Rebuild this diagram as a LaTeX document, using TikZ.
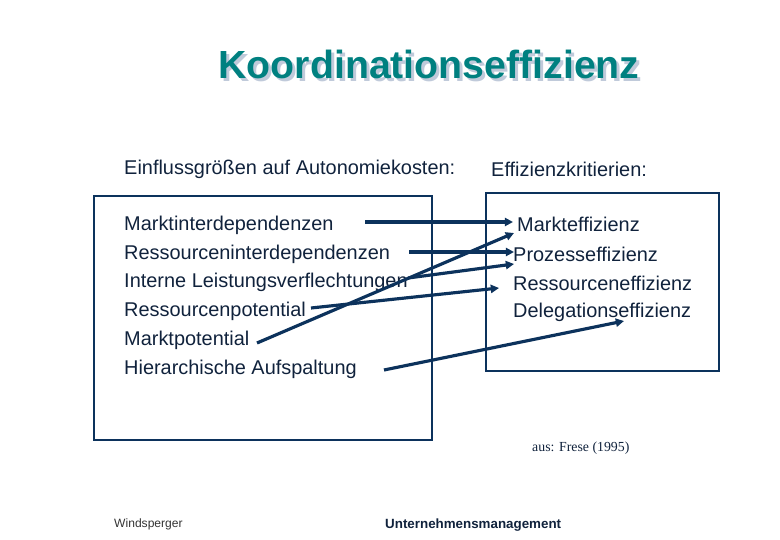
\documentclass[tikz,border=0pt]{standalone}
\usepackage{fontspec}
\setmainfont{Liberation Sans}
\newfontfamily\serifrm{Liberation Serif}
\usetikzlibrary{arrows.meta}
\definecolor{navy}{RGB}{12,50,92}
\definecolor{inktext}{RGB}{16,34,60}
\definecolor{teal}{RGB}{0,128,128}
\definecolor{shade}{RGB}{192,202,218}
\tikzset{
  item/.style={anchor=west, inner sep=0pt, text=inktext, font=\fontsize{17}{20}\selectfont},
  frame/.style={draw=navy, line width=2.5pt},
  arr/.style={draw=navy, line width=2.7pt, -{Triangle[length=7pt, width=7pt]}}
}
\begin{document}
\begin{tikzpicture}[x=0.03cm, y=-0.03cm]
		\useasboundingbox (0,0) rectangle (780,540);
		% title with shadow
		\node[text=shade, font=\fontsize{33.5}{40}\selectfont\bfseries] (Tsh) at (432,67) {Koordinationseffizienz};
		\node[text=teal, font=\fontsize{33.5}{40}\selectfont\bfseries] (T) at (429,64) {Koordinationseffizienz};
		% headers
		\node[item] (HL) at (124,169) {Einflussgrößen auf Autonomiekosten:};
		\node[item] (HR) at (491,169) {Effizienzkritierien:};
		% boxes
		\draw[frame] (94,196) rectangle (432,440);
		\draw[frame] (486,193) rectangle (719,371);
		% left list
		\foreach \y /\name/\txt in {
			225/li1/Marktinterdependenzen,
		  	254/li2/Ressourceninterdependenzen,
		  	282/li3/Interne Leistungsverflechtungen,
		  	311/li4/Ressourcenpotential,
		  	340/li5/Marktpotential,
		  	369/li6/Hierarchische Aufspaltung
		 }{
		 	\node[item] (\name) at (124,\y) {\txt};
		 }
		% right list
		\node[item] (re1) at (517,224) {Markteffizienz};
		\foreach \y /\name/\txt in {
		  	254/re2/Prozesseffizienz,
		  	283/re3/Ressourceneffizienz,
		  	312/re4/Delegationseffizienz
		 }{
		 	\node[item] (\name) at (513,\y) {\txt};
		 }
		% arrow ends
		\coordinate (s1) at (365,222);
		\coordinate (s2) at (409,252);
		\coordinate (s3) at (408,278);
		\coordinate (s4) at (311,308);
		\coordinate (s5) at (257,343);
		\coordinate (s6) at (384,370);
		\coordinate (e1) at (513,222);
		\coordinate (e2) at (514,252);
		\coordinate (e3) at (514,264);
		\coordinate (e4) at (499,288);
		\coordinate (e5) at (514,233);
		\coordinate (e6) at (624,321);
		\foreach \a/\b in {s1/e1, s2/e2, s3/e3, s4/e4, s5/e5, s6/e6}
		 {\draw[arr] (\a) -- (\b);}
		% source and footer
		\node[anchor=west, inner sep=0pt, text=inktext, font=\serifrm\fontsize{11.8}{14}\selectfont] (src) at (532,448) {aus: Frese (1995)};
		\node[anchor=west, inner sep=0pt, text=black!80, font=\fontsize{10.3}{12}\selectfont] (au) at (114,524) {Windsperger};
		\node[anchor=west, inner sep=0pt, text=inktext, font=\fontsize{11.4}{13}\selectfont\bfseries] (ft) at (385,525) {Unternehmensmanagement};
\end{tikzpicture}
\end{document}
